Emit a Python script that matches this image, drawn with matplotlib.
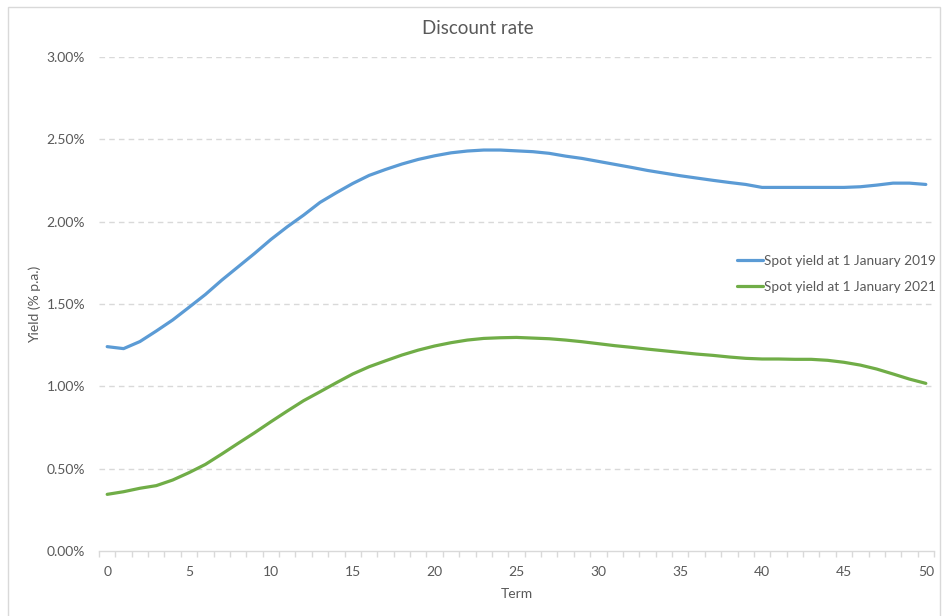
import matplotlib
matplotlib.use("Agg")
import matplotlib.pyplot as plt
from matplotlib.patches import Rectangle
from matplotlib.ticker import FuncFormatter, MultipleLocator

plt.rcParams['font.family'] = ['Lato', 'DejaVu Sans']

term = list(range(0, 51))

# spot yields in % p.a.
yield_2019 = [1.241, 1.229, 1.272, 1.336, 1.403, 1.480, 1.558, 1.645, 1.726, 1.807,
              1.892, 1.969, 2.040, 2.117, 2.176, 2.232, 2.281, 2.317, 2.350, 2.378,
              2.400, 2.418, 2.429, 2.435, 2.435, 2.430, 2.425, 2.415, 2.398, 2.384,
              2.366, 2.348, 2.330, 2.311, 2.295, 2.279, 2.265, 2.251, 2.238, 2.226,
              2.208, 2.208, 2.208, 2.208, 2.208, 2.208, 2.212, 2.222, 2.234, 2.234,
              2.226]
yield_2021 = [0.344, 0.360, 0.381, 0.397, 0.431, 0.476, 0.526, 0.589, 0.654, 0.718,
              0.785, 0.850, 0.913, 0.967, 1.022, 1.075, 1.119, 1.155, 1.190, 1.220,
              1.245, 1.265, 1.281, 1.291, 1.295, 1.297, 1.293, 1.289, 1.281, 1.271,
              1.259, 1.247, 1.237, 1.226, 1.216, 1.206, 1.196, 1.188, 1.178, 1.170,
              1.166, 1.166, 1.164, 1.164, 1.158, 1.146, 1.129, 1.105, 1.075, 1.044,
              1.018]

labels = ["Spot yield at 1 January 2019", "Spot yield at 1 January 2021"]
colors = ["#5B9BD5", "#70AD47"]
text_col = "#595959"
grid_col = "#D9D9D9"

fig = plt.figure(figsize=(9.42, 6.16), dpi=100)
# chart area border
fig.patches.append(Rectangle((8 / 942, -0.05), 940 / 942 - 8 / 942, 1.05 - 7 / 616,
                             transform=fig.transFigure, fill=False,
                             edgecolor=grid_col, linewidth=1))

ax = fig.add_axes([99 / 942, 1 - 551 / 616, (934 - 99) / 942, (551 - 57) / 616])

for y, lab, c in zip([yield_2019, yield_2021], labels, colors):
    ax.plot(term, [v / 100 for v in y], color=c, lw=2.3, label=lab,
            solid_joinstyle='round', solid_capstyle='round')

ax.set_xlim(-0.5, 50.5)
ax.set_ylim(0, 0.03)
ax.yaxis.set_major_locator(MultipleLocator(0.005))
ax.yaxis.set_major_formatter(FuncFormatter(lambda v, p: f"{v * 100:.2f}%"))
ax.set_xticks(range(0, 51, 5))
ax.set_xticks([i - 0.5 for i in range(52)], minor=True)

for s in ['top', 'right', 'left']:
    ax.spines[s].set_visible(False)
ax.spines['bottom'].set_color(grid_col)
ax.spines['bottom'].set_linewidth(1)

ax.tick_params(axis='y', length=0, labelsize=10, labelcolor=text_col, pad=10)
ax.tick_params(axis='x', which='major', length=0, labelsize=10, labelcolor=text_col, pad=11)
ax.tick_params(axis='x', which='minor', length=4, color=grid_col, width=1)

for g in [0.005, 0.01, 0.015, 0.02, 0.025, 0.03]:
    ax.axhline(g, color=grid_col, lw=1, ls=(0, (4, 3)), zorder=0)

fig.text(478 / 942, 1 - 28 / 616, "Discount rate", fontsize=13.5, color=text_col,
         ha='center', va='center')
ax.set_xlabel("Term", fontsize=10, color=text_col, labelpad=7)
ax.set_ylabel("Yield (% p.a.)", fontsize=10, color=text_col, labelpad=4)

fig.legend(loc='center left', bbox_to_anchor=(737 / 942, 1 - 274 / 616), frameon=False,
           fontsize=9.8, labelcolor=text_col, handlelength=1.9, handletextpad=0.1,
           labelspacing=1.05, borderaxespad=0, borderpad=0)

fig.savefig("out.png", dpi=100)
